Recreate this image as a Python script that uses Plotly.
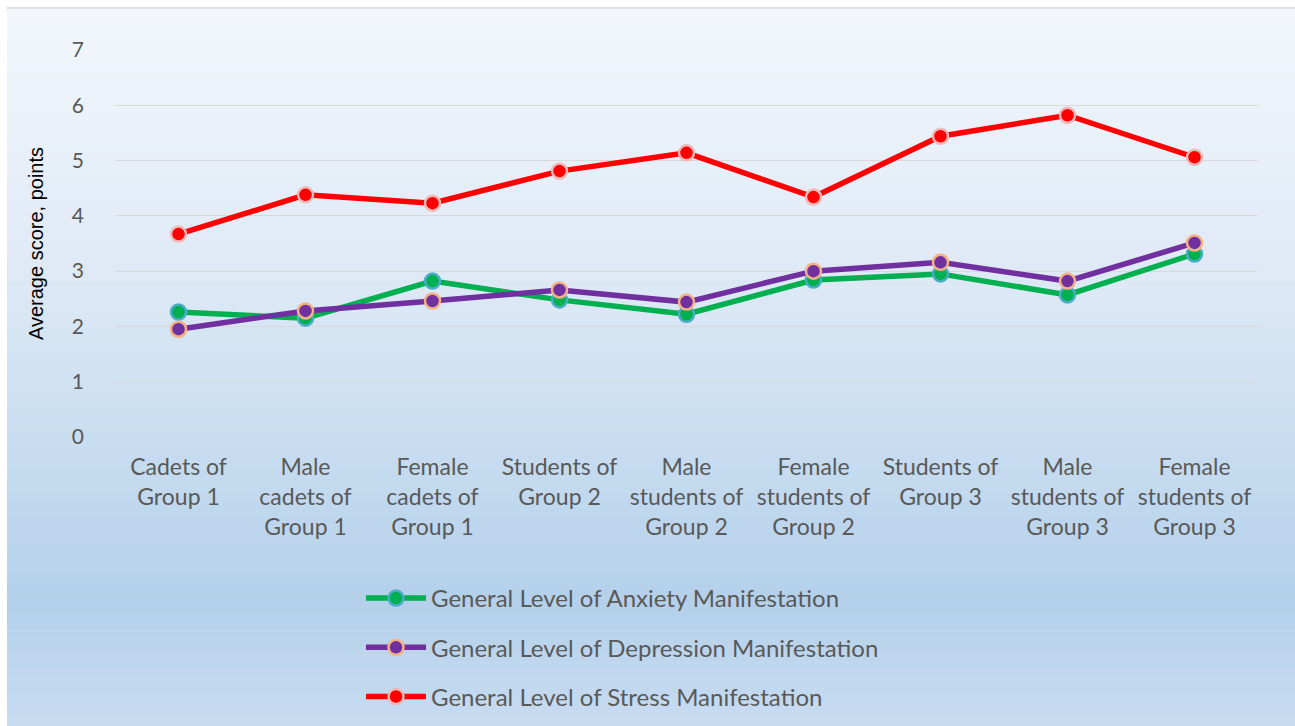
import plotly.graph_objects as go

categories = [
    "Cadets of<br>Group 1",
    "Male<br>cadets of<br>Group 1",
    "Female<br>cadets of<br>Group 1",
    "Students of<br>Group 2",
    "Male<br>students of<br>Group 2",
    "Female<br>students of<br>Group 2",
    "Students of<br>Group 3",
    "Male<br>students of<br>Group 3",
    "Female<br>students of<br>Group 3",
]
anxiety = [2.26, 2.15, 2.82, 2.48, 2.22, 2.84, 2.95, 2.57, 3.31]
depression = [1.95, 2.28, 2.46, 2.66, 2.44, 3.00, 3.16, 2.82, 3.51]
stress = [3.67, 4.38, 4.23, 4.81, 5.14, 4.34, 5.44, 5.82, 5.06]
series_names = [
    "General Level of Anxiety Manifestation",
    "General Level of Depression Manifestation",
    "General Level of Stress Manifestation",
]
y_ticks = [0, 1, 2, 3, 4, 5, 6, 7]

W, H = 1295, 726
ML, MR, MT, MB = 115, 37, 50, 289
PW, PH = W - ML - MR, H - MT - MB

fig = go.Figure()
styles = [
    (anxiety, "#00b050", "#4bacc6"),
    (depression, "#7030a0", "#f4b183"),
    (stress, "#ff0000", "#f2b8b8"),
]
x_idx = list(range(len(categories)))
for i, (vals, col, edge) in enumerate(styles):
    fig.add_trace(go.Scatter(
        x=x_idx, y=vals, mode="lines+markers", name=series_names[i],
        legendgroup=str(i),
        line=dict(color=col, width=5.5),
        marker=dict(color=col, size=15, line=dict(color=edge, width=2.5)),
    ))

# background gradient (style only)
def px2paper_x(px):
    return (px - ML) / PW

def px2paper_y(py):
    return (H - MB - py) / PH

stops = [(0.0, (243, 247, 252)), (0.35, (224, 234, 246)), (0.6, (200, 221, 240)),
         (0.83, (180, 208, 234)), (1.0, (200, 220, 241))]

def color_at(t):
    for (a, ca), (b, cb) in zip(stops[:-1], stops[1:]):
        if a <= t <= b:
            f = (t - a) / (b - a)
            return "rgb(%d,%d,%d)" % tuple(round(ca[k] + (cb[k] - ca[k]) * f) for k in range(3))
    return "rgb(%d,%d,%d)" % stops[-1][1]

shapes = []
top, bot = 8, H
n = 90
for k in range(n):
    y0 = top + (bot - top) * k / n
    y1 = top + (bot - top) * (k + 1) / n + 0.6
    shapes.append(dict(type="rect", xref="paper", yref="paper", layer="below",
                       x0=px2paper_x(7), x1=px2paper_x(W + 2),
                       y0=px2paper_y(y1), y1=px2paper_y(y0),
                       line=dict(width=0), fillcolor=color_at((k + 0.5) / n)))
shapes.append(dict(type="line", xref="paper", yref="paper", layer="below",
                   x0=px2paper_x(7), x1=px2paper_x(W + 2),
                   y0=px2paper_y(8), y1=px2paper_y(8),
                   line=dict(color="#dcdfe0", width=2)))

fig.update_layout(
    width=W, height=H,
    margin=dict(l=ML, r=MR, t=MT, b=MB, autoexpand=False),
    paper_bgcolor="white",
    plot_bgcolor="rgba(0,0,0,0)",
    font=dict(family="Lato, sans-serif", color="#595959", size=23),
    shapes=shapes,
    xaxis=dict(
        range=[-0.5, len(categories) - 0.5],
        tickmode="array", tickvals=x_idx, ticktext=categories,
        showgrid=False, showline=False, zeroline=False, ticks="",
        tickfont=dict(size=23, color="#595959"),
        ticklabelstandoff=14,
    ),
    yaxis=dict(
        range=[0, 7], tickmode="array", tickvals=y_ticks,
        showgrid=True, gridcolor="#d9d9d9", gridwidth=1,
        zeroline=False, showline=False, ticks="",
        tickfont=dict(size=21, color="#595959"),
        ticklabelstandoff=30,
        title=dict(text="Average score, points",
                   font=dict(family="Liberation Sans, Arial", size=20, color="black"),
                   standoff=22),
    ),
    legend=dict(
        x=px2paper_x(361), y=1 - 576 / H, yref="container",
        xanchor="left", yanchor="top",
        orientation="v", bgcolor="rgba(0,0,0,0)",
        font=dict(size=24, color="#595959"),
        traceorder="grouped", tracegroupgap=15, itemwidth=60,
    ),
)

fig.write_html("out.html", config={"displayModeBar": False},
               post_script="document.body.style.margin='0';document.body.style.overflow='hidden';")
